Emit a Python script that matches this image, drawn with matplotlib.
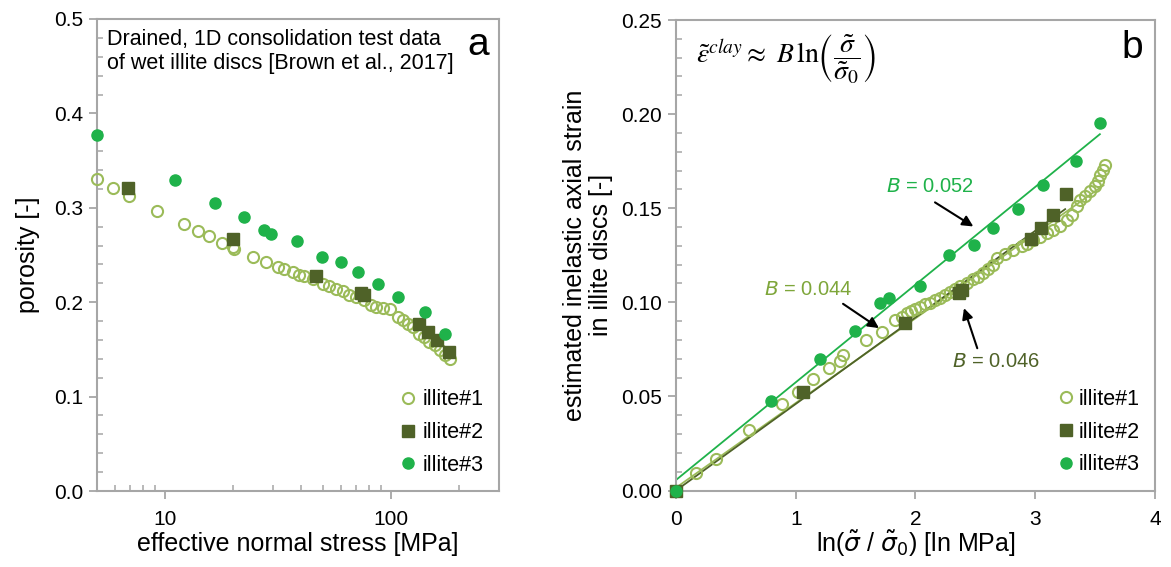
import numpy as np
import matplotlib
matplotlib.use('Agg')
import matplotlib.pyplot as plt
from matplotlib.ticker import MultipleLocator, LogLocator, NullFormatter, FixedLocator

plt.rcParams['font.family'] = ['Liberation Sans', 'DejaVu Sans']

# colours
C1 = '#9bbb59'   # illite#1
C2 = '#4f6228'   # illite#2
C3 = '#1fb24a'   # illite#3
SPINE = '#a6a6a6'

# ---------------------------------------------------------------------------
# Panel a: porosity vs effective normal stress
# ---------------------------------------------------------------------------
a_stress_1 = [5.0, 5.86, 6.95, 9.23, 12.1, 14.0, 15.7, 17.9, 19.9, 20.2, 24.5, 27.9, 31.5,
              33.7, 36.7, 39.3, 41.3, 45.0, 49.8, 53.3, 57.1, 61.1, 65.4, 70.0, 76.2,
              81.6, 85.9, 91.9, 98.4, 107.0, 112.5, 118.4, 124.6, 133.4, 140.4, 147.8,
              155.6, 163.8, 172.3, 181.3]
a_poro_1 = [0.330, 0.3205, 0.3126, 0.2971, 0.2833, 0.2759, 0.2702, 0.2632, 0.2585, 0.256,
            0.2479, 0.2426, 0.2373, 0.2349, 0.2320, 0.2292, 0.2277, 0.2243, 0.2198, 0.2172,
            0.2144, 0.2116, 0.2081, 0.2055, 0.2020, 0.1967, 0.1949, 0.1939, 0.1925, 0.1843,
            0.1808, 0.1773, 0.1737, 0.1667, 0.1631, 0.1578, 0.1543, 0.1490, 0.1437, 0.1402]

a_stress_2 = [6.88, 19.9, 46.6, 73.6, 76.2, 133.4, 145.2, 159.7, 179.6]
a_poro_2 = [0.321, 0.267, 0.2278, 0.2097, 0.2073, 0.1766, 0.1684, 0.1603, 0.1472]

a_stress_3 = [5.0, 11.07, 16.6, 22.3, 27.4, 29.5, 38.5, 49.5, 60.3, 71.4, 87.9, 107.8, 141.4, 173.8]
a_poro_3 = [0.377, 0.329, 0.3056, 0.2903, 0.276, 0.272, 0.2653, 0.2476, 0.2423, 0.2317,
            0.2193, 0.2052, 0.1893, 0.1663]

# ---------------------------------------------------------------------------
# Panel b: inelastic axial strain vs ln(sigma / sigma0)
# ---------------------------------------------------------------------------
b_lns_1 = [0.0, 0.167, 0.334, 0.612, 0.885, 1.02, 1.147, 1.278, 1.37, 1.397, 1.587, 1.72,
           1.829, 1.885, 1.926, 1.96, 1.996, 2.038, 2.079, 2.121, 2.163, 2.205, 2.246,
           2.288, 2.33, 2.372, 2.428, 2.483, 2.525, 2.567, 2.608, 2.65, 2.678, 2.747,
           2.817, 2.887, 2.929, 2.984, 3.04, 3.096, 3.151, 3.207, 3.263, 3.304, 3.346,
           3.374, 3.415, 3.457, 3.499, 3.527, 3.541, 3.568, 3.583]
b_strain_1 = [0.0, 0.0091, 0.0166, 0.0322, 0.0458, 0.0526, 0.0591, 0.065, 0.069, 0.072, 0.080,
              0.0843, 0.0907, 0.0921, 0.0942, 0.0955, 0.0964, 0.0974, 0.0992, 0.0999, 0.1013,
              0.1022, 0.104, 0.1057, 0.107, 0.1088, 0.1102, 0.1123, 0.1137, 0.1158, 0.1177,
              0.120, 0.1235, 0.1258, 0.1279, 0.1297, 0.1311, 0.1332, 0.1347, 0.1368, 0.1386,
              0.1407, 0.1435, 0.1465, 0.151, 0.1545, 0.1563, 0.1589, 0.1616, 0.1643, 0.1678,
              0.1705, 0.1731]

b_lns_2 = [0.0, 1.063, 1.915, 2.36, 2.39, 2.962, 3.045, 3.145, 3.254]
b_strain_2 = [0.0, 0.0522, 0.0889, 0.1050, 0.1068, 0.1336, 0.1396, 0.1462, 0.1575]

b_lns_3 = [0.0, 0.793, 1.203, 1.497, 1.704, 1.779, 2.038, 2.283, 2.486, 2.65, 2.859, 3.067, 3.34, 3.541]
b_strain_3 = [0.0, 0.0478, 0.070, 0.085, 0.0996, 0.1024, 0.1088, 0.1254, 0.1302, 0.1396,
              0.1497, 0.1623, 0.1753, 0.1951]

# fitted lines  eps = B * ln(s/s0) + offset
fit_B = [0.045, 0.046, 0.0519]
fit_offset = [0.0015, 0.0, 0.0056]
fit_xmax = [3.57, 3.25, 3.54]
fit_labels = ['$B$ = 0.044', '$B$ = 0.046', '$B$ = 0.052']

series_names = ['illite#1', 'illite#2', 'illite#3']

fig = plt.figure(figsize=(11.71, 5.67), dpi=100)
ax1 = fig.add_axes([0.0828, 0.134, 0.3433, 0.8325])
ax2 = fig.add_axes([0.5773, 0.1349, 0.409, 0.8298])


def style_axes(ax):
    for sp in ax.spines.values():
        sp.set_color(SPINE)
        sp.set_linewidth(1.5)
    ax.tick_params(which='major', direction='out', length=6, width=1.3, color=SPINE,
                   labelsize=15, pad=4)
    ax.tick_params(axis='x', which='major', pad=8)
    ax.tick_params(which='minor', direction='in', length=4, width=1.1, color=SPINE)


def scatter_sets(ax, xs, ys):
    ax.plot(xs[0], ys[0], 'o', ms=8, mfc='none', mec=C1, mew=1.5, label=series_names[0],
            clip_on=False, zorder=3)
    ax.plot(xs[1], ys[1], 's', ms=8, color=C2, label=series_names[1], clip_on=False, zorder=4)
    ax.plot(xs[2], ys[2], 'o', ms=8, color=C3, label=series_names[2], clip_on=False, zorder=5)


# --- panel a ---
scatter_sets(ax1, [a_stress_1, a_stress_2, a_stress_3], [a_poro_1, a_poro_2, a_poro_3])
ax1.set_xscale('log')
ax1.set_xlim(5, 300)
ax1.set_ylim(0, 0.5)
ax1.xaxis.set_major_locator(FixedLocator([10, 100]))
ax1.set_xticklabels(['10', '100'])
ax1.xaxis.set_minor_locator(LogLocator(base=10, subs=np.arange(2, 10)))
ax1.xaxis.set_minor_formatter(NullFormatter())
ax1.yaxis.set_major_locator(MultipleLocator(0.1))
ax1.yaxis.set_minor_locator(MultipleLocator(0.02))
ax1.yaxis.set_major_formatter(plt.FormatStrFormatter('%.1f'))
style_axes(ax1)
ax1.set_xlabel('effective normal stress [MPa]', fontsize=18, labelpad=2)
ax1.set_ylabel('porosity [-]', fontsize=18, labelpad=10)
ax1.text(0.026, 0.978, 'Drained, 1D consolidation test data\nof wet illite discs [Brown et al., 2017]',
         transform=ax1.transAxes, ha='left', va='top', fontsize=15.5, linespacing=1.15)
ax1.text(0.948, 0.945, 'a', transform=ax1.transAxes, ha='center', va='center', fontsize=28)
ax1.legend(loc='lower right', frameon=False, fontsize=15.5, handletextpad=0.1,
           handlelength=1.2, labelspacing=0.55, borderaxespad=0.3)

# --- panel b ---
scatter_sets(ax2, [b_lns_1, b_lns_2, b_lns_3], [b_strain_1, b_strain_2, b_strain_3])
for B, off, xm, col in zip(fit_B, fit_offset, fit_xmax, [C1, C2, C3]):
    xs = np.array([0.0, xm])
    ax2.plot(xs, B * xs + off, '-', color=col, lw=1.3, zorder=2)
ax2.set_xlim(0, 4)
ax2.set_ylim(0, 0.25)
ax2.xaxis.set_major_locator(MultipleLocator(1))
ax2.yaxis.set_major_locator(MultipleLocator(0.05))
ax2.yaxis.set_minor_locator(MultipleLocator(0.01))
ax2.yaxis.set_major_formatter(plt.FormatStrFormatter('%.2f'))
style_axes(ax2)
ax2.set_xlabel(r'ln($\tilde{\sigma}$ / $\tilde{\sigma}_0$) [ln MPa]', fontsize=18, labelpad=0)
ax2.set_ylabel('estimated inelastic axial strain\nin illite discs [-]', fontsize=18,
               labelpad=6, linespacing=1.1)
ax2.text(0.17, 0.229,
         r'$\tilde{\varepsilon}^{clay}\approx\ B\,\ln\!\left(\dfrac{\tilde{\sigma}}{\tilde{\sigma}_0}\right)$',
         ha='left', va='center', fontsize=20, math_fontfamily='stix')
ax2.text(0.952, 0.94, 'b', transform=ax2.transAxes, ha='center', va='center', fontsize=28)

arrow = dict(arrowstyle='-|>', color='black', lw=1.5, mutation_scale=16, shrinkA=0, shrinkB=0)
ax2.text(2.12, 0.1616, fit_labels[2], color=C3, fontsize=14.5, ha='center', va='center')
ax2.annotate('', xy=(2.483, 0.1403), xytext=(2.163, 0.1531), arrowprops=arrow)
ax2.text(1.108, 0.1066, fit_labels[0], color='#7ea63a', fontsize=14.5, ha='center', va='center')
ax2.annotate('', xy=(1.695, 0.0863), xytext=(1.395, 0.0992), arrowprops=arrow)
ax2.text(2.674, 0.0685, fit_labels[1], color=C2, fontsize=14.5, ha='center', va='center')
ax2.annotate('', xy=(2.405, 0.0969), xytext=(2.516, 0.0756), arrowprops=arrow)
ax2.legend(loc='lower right', frameon=False, fontsize=15.5, handletextpad=0.1,
           handlelength=1.0, labelspacing=0.55, borderaxespad=0.3)

fig.savefig('out.png', dpi=100)
